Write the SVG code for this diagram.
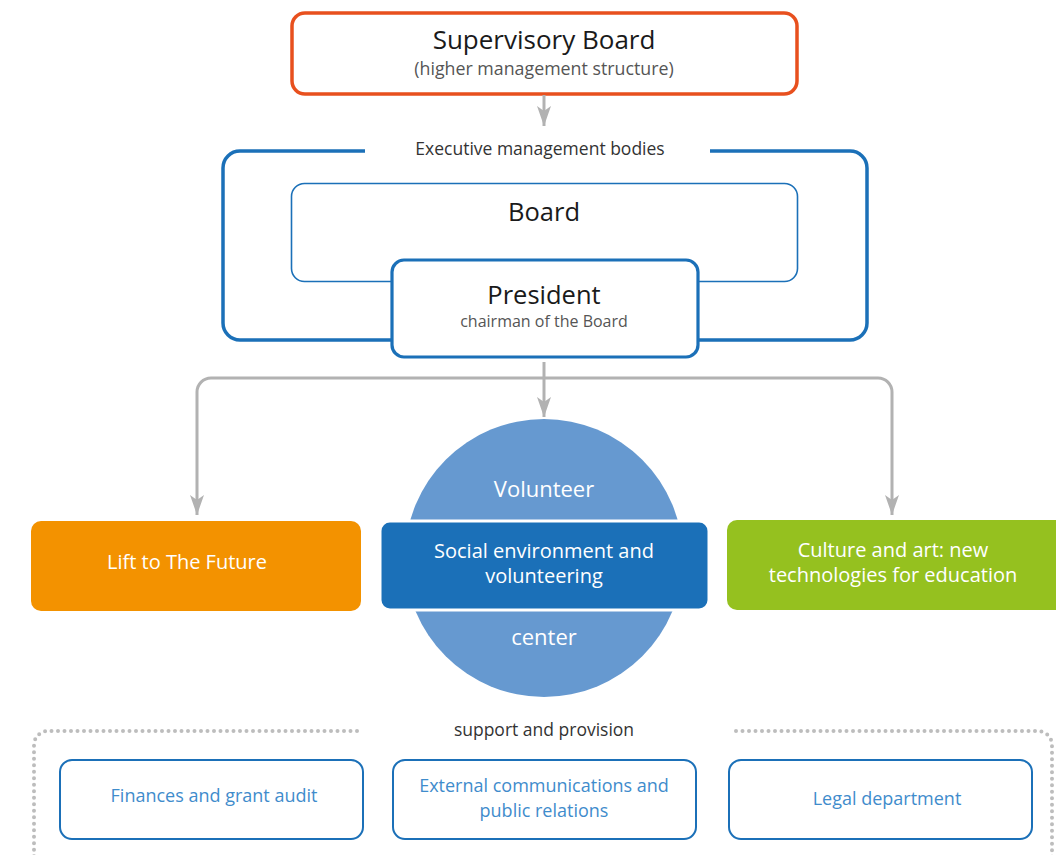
<svg xmlns="http://www.w3.org/2000/svg" width="1056" height="855" viewBox="0 0 1056 855">
<defs>
<marker id="ah" viewBox="0 0 20 14" refX="20" refY="7" markerWidth="20" markerHeight="14" markerUnits="userSpaceOnUse" orient="auto">
<path d="M0,0 L20,7 L0,14 L5,7 Z" fill="#B2B2B2"/>
</marker>
<style>
text{font-family:"Open Sans","Noto Sans",sans-serif;text-anchor:middle}
.t1{font-size:25.5px;fill:#1a1a1a}
.t2{font-size:16px;fill:#555}
.lbl{font-size:17.5px;fill:#333}
.w{font-size:20px;fill:#fff}
.sb{font-size:18px;fill:#3f8ccc}
.conn{fill:none;stroke:#B2B2B2;stroke-width:3}
.blue{fill:#fff;stroke:#1B70B8}
.dot{fill:none;stroke:#BDBDBD;stroke-width:4;stroke-linecap:round;stroke-dasharray:0 6.5}
</style>
</defs>
<rect width="1056" height="855" fill="#fff"/>

<g id="supervisory-board">
<rect x="292" y="13" width="505" height="81" rx="13" fill="#fff" stroke="#E8501E" stroke-width="3.5"/>
<text class="t1" x="544" y="49" style="font-size:26px">Supervisory Board</text>
<text class="t2" x="544" y="75" style="font-size:17.8px">(higher management structure)</text>
</g>

<g id="executive-bodies">
<path d="M365,151 H240 a17,17 0 0 0 -17,17 V323 a17,17 0 0 0 17,17 H850 a17,17 0 0 0 17,-17 V168 a17,17 0 0 0 -17,-17 H710" fill="none" stroke="#1B70B8" stroke-width="3.5"/>
<text class="lbl" x="540" y="155">Executive management bodies</text>
</g>

<g id="board">
<rect class="blue" x="291.5" y="183.5" width="506" height="98" rx="13" stroke-width="1.6"/>
<text class="t1" x="544" y="221">Board</text>
</g>

<g id="president">
<rect class="blue" x="392" y="260" width="306" height="97" rx="12" stroke-width="3.2"/>
<text class="t1" x="544" y="304">President</text>
<text class="t2" x="544" y="327">chairman of the Board</text>
</g>

<g id="connectors">
<line class="conn" x1="544" y1="95" x2="544" y2="126" marker-end="url(#ah)"/>
<line class="conn" x1="544" y1="362" x2="544" y2="417" marker-end="url(#ah)"/>
<path class="conn" d="M544,378 H211 a14,14 0 0 0 -14,14 V515" marker-end="url(#ah)"/>
<path class="conn" d="M544,378 H878 a14,14 0 0 1 14,14 V515" marker-end="url(#ah)"/>
</g>

<g id="volunteer-center">
<circle cx="544" cy="558" r="139" fill="#6699D0"/>
<text class="w" x="544" y="497" style="font-size:22px">Volunteer</text>
<text class="w" x="544" y="645" style="font-size:22px">center</text>
</g>

<g id="social-environment">
<rect x="380" y="521" width="329" height="89" rx="10" fill="#1B70B8" stroke="#fff" stroke-width="3"/>
<text class="w" x="544" y="558">Social environment and</text>
<text class="w" x="544" y="583">volunteering</text>
</g>

<g id="lift-to-the-future">
<rect x="31" y="521" width="330" height="90" rx="10" fill="#F39200"/>
<text class="w" x="187" y="569">Lift to The Future</text>
</g>

<g id="culture-and-art">
<rect x="727" y="520" width="340" height="90" rx="10" fill="#95C11F"/>
<text class="w" x="893" y="557">Culture and art: new</text>
<text class="w" x="893" y="582">technologies for education</text>
</g>

<g id="support-and-provision">
<path class="dot" d="M357,731 H48 a14,14 0 0 0 -14,14 V860"/>
<path class="dot" d="M736,731 H1038 a14,14 0 0 1 14,14 V860"/>
<text class="lbl" x="544" y="736">support and provision</text>
</g>

<g id="finances">
<rect class="blue" x="60" y="760" width="303" height="79" rx="12" stroke-width="2"/>
<text class="sb" x="214" y="802">Finances and grant audit</text>
</g>

<g id="external-communications">
<rect class="blue" x="393" y="760" width="303" height="79" rx="12" stroke-width="2"/>
<text class="sb" x="544" y="792">External communications and</text>
<text class="sb" x="544" y="817">public relations</text>
</g>

<g id="legal-department">
<rect class="blue" x="729" y="760" width="303" height="79" rx="12" stroke-width="2"/>
<text class="sb" x="887" y="805">Legal department</text>
</g>
</svg>
